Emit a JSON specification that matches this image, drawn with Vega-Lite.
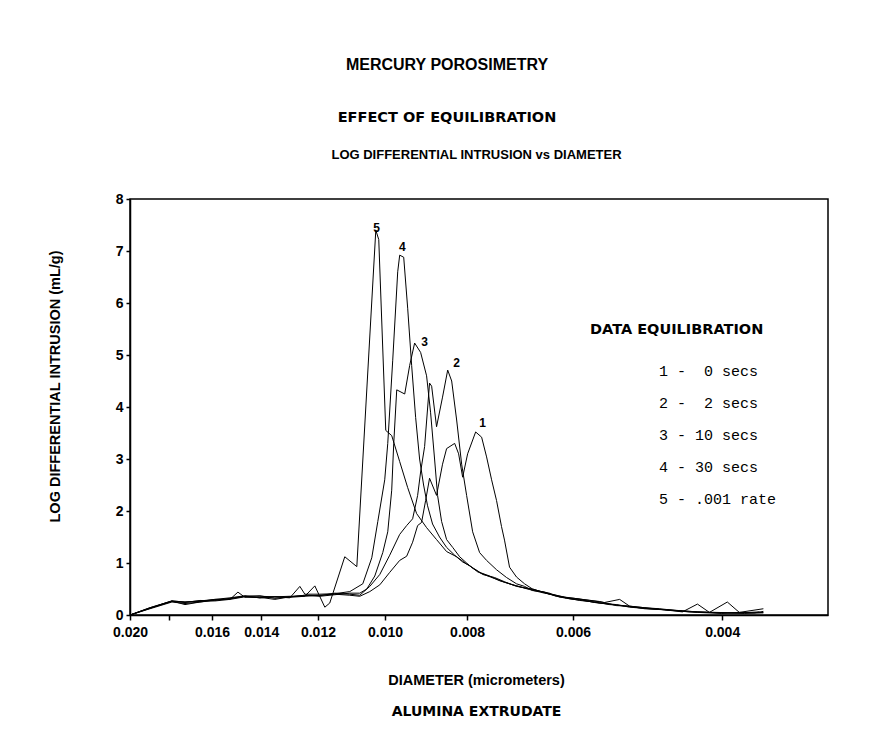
{
  "$schema": "https://vega.github.io/schema/vega-lite/v6.json",
  "width": 698,
  "height": 416,
  "autosize": {"type": "none"},
  "padding": {"left": 130, "top": 199, "right": 42, "bottom": 116},
  "background": "white",
  "config": {
    "view": {"stroke": "black", "strokeWidth": 1.5},
    "font": "Liberation Sans"
  },
  "title": {
    "text": "MERCURY POROSIMETRY",
    "subtitle": "EFFECT OF EQUILIBRATION",
    "anchor": "middle",
    "frame": "group",
    "dx": -32,
    "offset": 24,
    "font": "Liberation Sans",
    "fontSize": 16,
    "fontWeight": "bold",
    "color": "black",
    "subtitleFont": "DejaVu Sans",
    "subtitleFontSize": 14.5,
    "subtitleFontWeight": "bold",
    "subtitleColor": "black",
    "subtitlePadding": 38
  },
  "datasets": {
    "curves": [
      {"run": "1 -\u00a0\u00a00 secs", "d": 0.02, "v": 0},
      {"run": "1 -\u00a0\u00a00 secs", "d": 0.018944, "v": 0.12},
      {"run": "1 -\u00a0\u00a00 secs", "d": 0.017846, "v": 0.25},
      {"run": "1 -\u00a0\u00a00 secs", "d": 0.017224, "v": 0.22},
      {"run": "1 -\u00a0\u00a00 secs", "d": 0.016538, "v": 0.25},
      {"run": "1 -\u00a0\u00a00 secs", "d": 0.015882, "v": 0.28},
      {"run": "1 -\u00a0\u00a00 secs", "d": 0.015243, "v": 0.32},
      {"run": "1 -\u00a0\u00a00 secs", "d": 0.014634, "v": 0.36},
      {"run": "1 -\u00a0\u00a00 secs", "d": 0.01405, "v": 0.33},
      {"run": "1 -\u00a0\u00a00 secs", "d": 0.01349, "v": 0.35},
      {"run": "1 -\u00a0\u00a00 secs", "d": 0.012952, "v": 0.36},
      {"run": "1 -\u00a0\u00a00 secs", "d": 0.012435, "v": 0.36},
      {"run": "1 -\u00a0\u00a00 secs", "d": 0.01194, "v": 0.38},
      {"run": "1 -\u00a0\u00a00 secs", "d": 0.011462, "v": 0.4},
      {"run": "1 -\u00a0\u00a00 secs", "d": 0.011005, "v": 0.38},
      {"run": "1 -\u00a0\u00a00 secs", "d": 0.01071, "v": 0.36},
      {"run": "1 -\u00a0\u00a00 secs", "d": 0.010423, "v": 0.45},
      {"run": "1 -\u00a0\u00a00 secs", "d": 0.010143, "v": 0.58},
      {"run": "1 -\u00a0\u00a00 secs", "d": 0.009873, "v": 0.82},
      {"run": "1 -\u00a0\u00a00 secs", "d": 0.009609, "v": 1.05},
      {"run": "1 -\u00a0\u00a00 secs", "d": 0.009429, "v": 1.13},
      {"run": "1 -\u00a0\u00a00 secs", "d": 0.009277, "v": 1.4},
      {"run": "1 -\u00a0\u00a00 secs", "d": 0.009152, "v": 1.72},
      {"run": "1 -\u00a0\u00a00 secs", "d": 0.009054, "v": 1.78},
      {"run": "1 -\u00a0\u00a00 secs", "d": 0.008956, "v": 2.2},
      {"run": "1 -\u00a0\u00a00 secs", "d": 0.00886, "v": 2.63},
      {"run": "1 -\u00a0\u00a00 secs", "d": 0.008693, "v": 2.3},
      {"run": "1 -\u00a0\u00a00 secs", "d": 0.008553, "v": 2.9},
      {"run": "1 -\u00a0\u00a00 secs", "d": 0.008459, "v": 3.2},
      {"run": "1 -\u00a0\u00a00 secs", "d": 0.008276, "v": 3.3},
      {"run": "1 -\u00a0\u00a00 secs", "d": 0.008187, "v": 3.1},
      {"run": "1 -\u00a0\u00a00 secs", "d": 0.008098, "v": 2.65},
      {"run": "1 -\u00a0\u00a00 secs", "d": 0.007989, "v": 3.1},
      {"run": "1 -\u00a0\u00a00 secs", "d": 0.007817, "v": 3.52},
      {"run": "1 -\u00a0\u00a00 secs", "d": 0.007691, "v": 3.42},
      {"run": "1 -\u00a0\u00a00 secs", "d": 0.007588, "v": 3.04},
      {"run": "1 -\u00a0\u00a00 secs", "d": 0.007485, "v": 2.6},
      {"run": "1 -\u00a0\u00a00 secs", "d": 0.007385, "v": 2.2},
      {"run": "1 -\u00a0\u00a00 secs", "d": 0.007286, "v": 1.7},
      {"run": "1 -\u00a0\u00a00 secs", "d": 0.007227, "v": 1.44},
      {"run": "1 -\u00a0\u00a00 secs", "d": 0.007129, "v": 0.92},
      {"run": "1 -\u00a0\u00a00 secs", "d": 0.006995, "v": 0.73},
      {"run": "1 -\u00a0\u00a00 secs", "d": 0.006844, "v": 0.6},
      {"run": "1 -\u00a0\u00a00 secs", "d": 0.006698, "v": 0.5},
      {"run": "1 -\u00a0\u00a00 secs", "d": 0.006482, "v": 0.43},
      {"run": "1 -\u00a0\u00a00 secs", "d": 0.006274, "v": 0.36},
      {"run": "1 -\u00a0\u00a00 secs", "d": 0.006107, "v": 0.32},
      {"run": "1 -\u00a0\u00a00 secs", "d": 0.005893, "v": 0.3},
      {"run": "1 -\u00a0\u00a00 secs", "d": 0.005658, "v": 0.24},
      {"run": "1 -\u00a0\u00a00 secs", "d": 0.005433, "v": 0.21},
      {"run": "1 -\u00a0\u00a00 secs", "d": 0.005215, "v": 0.17},
      {"run": "1 -\u00a0\u00a00 secs", "d": 0.004938, "v": 0.13},
      {"run": "1 -\u00a0\u00a00 secs", "d": 0.004678, "v": 0.1},
      {"run": "1 -\u00a0\u00a00 secs", "d": 0.004456, "v": 0.07},
      {"run": "1 -\u00a0\u00a00 secs", "d": 0.004278, "v": 0.05},
      {"run": "1 -\u00a0\u00a00 secs", "d": 0.004008, "v": 0.03},
      {"run": "1 -\u00a0\u00a00 secs", "d": 0.003818, "v": 0.05},
      {"run": "1 -\u00a0\u00a00 secs", "d": 0.003576, "v": 0.12},

      {"run": "2 -\u00a0\u00a02 secs", "d": 0.02, "v": 0},
      {"run": "2 -\u00a0\u00a02 secs", "d": 0.018944, "v": 0.14},
      {"run": "2 -\u00a0\u00a02 secs", "d": 0.017846, "v": 0.27},
      {"run": "2 -\u00a0\u00a02 secs", "d": 0.017224, "v": 0.25},
      {"run": "2 -\u00a0\u00a02 secs", "d": 0.016538, "v": 0.27},
      {"run": "2 -\u00a0\u00a02 secs", "d": 0.015882, "v": 0.3},
      {"run": "2 -\u00a0\u00a02 secs", "d": 0.015243, "v": 0.3},
      {"run": "2 -\u00a0\u00a02 secs", "d": 0.014634, "v": 0.35},
      {"run": "2 -\u00a0\u00a02 secs", "d": 0.01405, "v": 0.37},
      {"run": "2 -\u00a0\u00a02 secs", "d": 0.01349, "v": 0.32},
      {"run": "2 -\u00a0\u00a02 secs", "d": 0.012952, "v": 0.35},
      {"run": "2 -\u00a0\u00a02 secs", "d": 0.012435, "v": 0.38},
      {"run": "2 -\u00a0\u00a02 secs", "d": 0.01194, "v": 0.37},
      {"run": "2 -\u00a0\u00a02 secs", "d": 0.011462, "v": 0.42},
      {"run": "2 -\u00a0\u00a02 secs", "d": 0.011005, "v": 0.4},
      {"run": "2 -\u00a0\u00a02 secs", "d": 0.01071, "v": 0.38},
      {"run": "2 -\u00a0\u00a02 secs", "d": 0.010423, "v": 0.55},
      {"run": "2 -\u00a0\u00a02 secs", "d": 0.010143, "v": 0.78},
      {"run": "2 -\u00a0\u00a02 secs", "d": 0.009873, "v": 1.15},
      {"run": "2 -\u00a0\u00a02 secs", "d": 0.009609, "v": 1.55},
      {"run": "2 -\u00a0\u00a02 secs", "d": 0.009429, "v": 1.72},
      {"run": "2 -\u00a0\u00a02 secs", "d": 0.009277, "v": 1.85},
      {"run": "2 -\u00a0\u00a02 secs", "d": 0.009152, "v": 2.3},
      {"run": "2 -\u00a0\u00a02 secs", "d": 0.009078, "v": 2.75},
      {"run": "2 -\u00a0\u00a02 secs", "d": 0.00898, "v": 3.24},
      {"run": "2 -\u00a0\u00a02 secs", "d": 0.00886, "v": 4.46},
      {"run": "2 -\u00a0\u00a02 secs", "d": 0.00881, "v": 4.4},
      {"run": "2 -\u00a0\u00a02 secs", "d": 0.008693, "v": 3.62},
      {"run": "2 -\u00a0\u00a02 secs", "d": 0.008553, "v": 4.19},
      {"run": "2 -\u00a0\u00a02 secs", "d": 0.008434, "v": 4.71},
      {"run": "2 -\u00a0\u00a02 secs", "d": 0.008343, "v": 4.5},
      {"run": "2 -\u00a0\u00a02 secs", "d": 0.008231, "v": 3.75},
      {"run": "2 -\u00a0\u00a02 secs", "d": 0.00812, "v": 2.9},
      {"run": "2 -\u00a0\u00a02 secs", "d": 0.008011, "v": 2.3},
      {"run": "2 -\u00a0\u00a02 secs", "d": 0.007881, "v": 1.6},
      {"run": "2 -\u00a0\u00a02 secs", "d": 0.007733, "v": 1.2},
      {"run": "2 -\u00a0\u00a02 secs", "d": 0.007588, "v": 1.05},
      {"run": "2 -\u00a0\u00a02 secs", "d": 0.007385, "v": 0.87},
      {"run": "2 -\u00a0\u00a02 secs", "d": 0.007186, "v": 0.72},
      {"run": "2 -\u00a0\u00a02 secs", "d": 0.006995, "v": 0.6},
      {"run": "2 -\u00a0\u00a02 secs", "d": 0.006844, "v": 0.55},
      {"run": "2 -\u00a0\u00a02 secs", "d": 0.006698, "v": 0.47},
      {"run": "2 -\u00a0\u00a02 secs", "d": 0.006482, "v": 0.44},
      {"run": "2 -\u00a0\u00a02 secs", "d": 0.006274, "v": 0.36},
      {"run": "2 -\u00a0\u00a02 secs", "d": 0.006107, "v": 0.33},
      {"run": "2 -\u00a0\u00a02 secs", "d": 0.005893, "v": 0.28},
      {"run": "2 -\u00a0\u00a02 secs", "d": 0.005658, "v": 0.25},
      {"run": "2 -\u00a0\u00a02 secs", "d": 0.005433, "v": 0.2},
      {"run": "2 -\u00a0\u00a02 secs", "d": 0.005215, "v": 0.18},
      {"run": "2 -\u00a0\u00a02 secs", "d": 0.004938, "v": 0.12},
      {"run": "2 -\u00a0\u00a02 secs", "d": 0.004678, "v": 0.1},
      {"run": "2 -\u00a0\u00a02 secs", "d": 0.004456, "v": 0.06},
      {"run": "2 -\u00a0\u00a02 secs", "d": 0.004278, "v": 0.21},
      {"run": "2 -\u00a0\u00a02 secs", "d": 0.004141, "v": 0.05},
      {"run": "2 -\u00a0\u00a02 secs", "d": 0.004008, "v": 0.04},
      {"run": "2 -\u00a0\u00a02 secs", "d": 0.003818, "v": 0.04},
      {"run": "2 -\u00a0\u00a02 secs", "d": 0.003614, "v": 0.06},

      {"run": "3 - 10 secs", "d": 0.02, "v": 0},
      {"run": "3 - 10 secs", "d": 0.018944, "v": 0.13},
      {"run": "3 - 10 secs", "d": 0.017846, "v": 0.26},
      {"run": "3 - 10 secs", "d": 0.017224, "v": 0.24},
      {"run": "3 - 10 secs", "d": 0.016538, "v": 0.28},
      {"run": "3 - 10 secs", "d": 0.015882, "v": 0.27},
      {"run": "3 - 10 secs", "d": 0.015243, "v": 0.3},
      {"run": "3 - 10 secs", "d": 0.014916, "v": 0.44},
      {"run": "3 - 10 secs", "d": 0.014634, "v": 0.34},
      {"run": "3 - 10 secs", "d": 0.01405, "v": 0.34},
      {"run": "3 - 10 secs", "d": 0.01349, "v": 0.3},
      {"run": "3 - 10 secs", "d": 0.012952, "v": 0.35},
      {"run": "3 - 10 secs", "d": 0.012435, "v": 0.38},
      {"run": "3 - 10 secs", "d": 0.01194, "v": 0.36},
      {"run": "3 - 10 secs", "d": 0.011462, "v": 0.39},
      {"run": "3 - 10 secs", "d": 0.011005, "v": 0.42},
      {"run": "3 - 10 secs", "d": 0.01071, "v": 0.42},
      {"run": "3 - 10 secs", "d": 0.010508, "v": 0.5},
      {"run": "3 - 10 secs", "d": 0.010282, "v": 0.75},
      {"run": "3 - 10 secs", "d": 0.010062, "v": 1.2},
      {"run": "3 - 10 secs", "d": 0.009926, "v": 1.6},
      {"run": "3 - 10 secs", "d": 0.00982, "v": 2.4},
      {"run": "3 - 10 secs", "d": 0.009766, "v": 3.3},
      {"run": "3 - 10 secs", "d": 0.009687, "v": 4.33},
      {"run": "3 - 10 secs", "d": 0.009479, "v": 4.25},
      {"run": "3 - 10 secs", "d": 0.009352, "v": 4.8},
      {"run": "3 - 10 secs", "d": 0.009227, "v": 5.23},
      {"run": "3 - 10 secs", "d": 0.009078, "v": 5.05},
      {"run": "3 - 10 secs", "d": 0.008932, "v": 4.6},
      {"run": "3 - 10 secs", "d": 0.008836, "v": 3.9},
      {"run": "3 - 10 secs", "d": 0.00874, "v": 3.0},
      {"run": "3 - 10 secs", "d": 0.008669, "v": 2.3},
      {"run": "3 - 10 secs", "d": 0.008575, "v": 1.8},
      {"run": "3 - 10 secs", "d": 0.008459, "v": 1.45},
      {"run": "3 - 10 secs", "d": 0.00832, "v": 1.3},
      {"run": "3 - 10 secs", "d": 0.008164, "v": 1.12},
      {"run": "3 - 10 secs", "d": 0.008011, "v": 1.0},
      {"run": "3 - 10 secs", "d": 0.007881, "v": 0.9},
      {"run": "3 - 10 secs", "d": 0.007733, "v": 0.82},
      {"run": "3 - 10 secs", "d": 0.007526, "v": 0.75},
      {"run": "3 - 10 secs", "d": 0.007325, "v": 0.66},
      {"run": "3 - 10 secs", "d": 0.00707, "v": 0.58},
      {"run": "3 - 10 secs", "d": 0.006844, "v": 0.52},
      {"run": "3 - 10 secs", "d": 0.006572, "v": 0.46},
      {"run": "3 - 10 secs", "d": 0.006397, "v": 0.42},
      {"run": "3 - 10 secs", "d": 0.006225, "v": 0.35},
      {"run": "3 - 10 secs", "d": 0.005976, "v": 0.32},
      {"run": "3 - 10 secs", "d": 0.005736, "v": 0.28},
      {"run": "3 - 10 secs", "d": 0.005508, "v": 0.24},
      {"run": "3 - 10 secs", "d": 0.005285, "v": 0.3},
      {"run": "3 - 10 secs", "d": 0.005144, "v": 0.17},
      {"run": "3 - 10 secs", "d": 0.004938, "v": 0.14},
      {"run": "3 - 10 secs", "d": 0.004743, "v": 0.12},
      {"run": "3 - 10 secs", "d": 0.004553, "v": 0.09},
      {"run": "3 - 10 secs", "d": 0.004373, "v": 0.06},
      {"run": "3 - 10 secs", "d": 0.004198, "v": 0.05},
      {"run": "3 - 10 secs", "d": 0.003944, "v": 0.04},
      {"run": "3 - 10 secs", "d": 0.003765, "v": 0.03},
      {"run": "3 - 10 secs", "d": 0.003576, "v": 0.05},

      {"run": "4 - 30 secs", "d": 0.02, "v": 0},
      {"run": "4 - 30 secs", "d": 0.018944, "v": 0.14},
      {"run": "4 - 30 secs", "d": 0.017846, "v": 0.27},
      {"run": "4 - 30 secs", "d": 0.017224, "v": 0.25},
      {"run": "4 - 30 secs", "d": 0.016538, "v": 0.26},
      {"run": "4 - 30 secs", "d": 0.015882, "v": 0.3},
      {"run": "4 - 30 secs", "d": 0.015243, "v": 0.33},
      {"run": "4 - 30 secs", "d": 0.014634, "v": 0.37},
      {"run": "4 - 30 secs", "d": 0.01405, "v": 0.36},
      {"run": "4 - 30 secs", "d": 0.01349, "v": 0.35},
      {"run": "4 - 30 secs", "d": 0.012952, "v": 0.33},
      {"run": "4 - 30 secs", "d": 0.012605, "v": 0.55},
      {"run": "4 - 30 secs", "d": 0.012435, "v": 0.4},
      {"run": "4 - 30 secs", "d": 0.01194, "v": 0.4},
      {"run": "4 - 30 secs", "d": 0.011462, "v": 0.41},
      {"run": "4 - 30 secs", "d": 0.011005, "v": 0.45},
      {"run": "4 - 30 secs", "d": 0.010623, "v": 0.6},
      {"run": "4 - 30 secs", "d": 0.010367, "v": 1.1},
      {"run": "4 - 30 secs", "d": 0.010198, "v": 1.8},
      {"run": "4 - 30 secs", "d": 0.010008, "v": 2.6},
      {"run": "4 - 30 secs", "d": 0.009926, "v": 3.3},
      {"run": "4 - 30 secs", "d": 0.009793, "v": 4.9},
      {"run": "4 - 30 secs", "d": 0.009661, "v": 6.6},
      {"run": "4 - 30 secs", "d": 0.009609, "v": 6.92},
      {"run": "4 - 30 secs", "d": 0.009505, "v": 6.88},
      {"run": "4 - 30 secs", "d": 0.009403, "v": 5.9},
      {"run": "4 - 30 secs", "d": 0.009302, "v": 4.8},
      {"run": "4 - 30 secs", "d": 0.009202, "v": 3.8},
      {"run": "4 - 30 secs", "d": 0.009103, "v": 3.0},
      {"run": "4 - 30 secs", "d": 0.009005, "v": 2.5},
      {"run": "4 - 30 secs", "d": 0.008908, "v": 2.1},
      {"run": "4 - 30 secs", "d": 0.008788, "v": 1.75},
      {"run": "4 - 30 secs", "d": 0.008623, "v": 1.5},
      {"run": "4 - 30 secs", "d": 0.008459, "v": 1.3},
      {"run": "4 - 30 secs", "d": 0.008276, "v": 1.15},
      {"run": "4 - 30 secs", "d": 0.008098, "v": 1.02},
      {"run": "4 - 30 secs", "d": 0.007946, "v": 0.95},
      {"run": "4 - 30 secs", "d": 0.007775, "v": 0.83},
      {"run": "4 - 30 secs", "d": 0.007588, "v": 0.76},
      {"run": "4 - 30 secs", "d": 0.007423, "v": 0.7},
      {"run": "4 - 30 secs", "d": 0.007227, "v": 0.63},
      {"run": "4 - 30 secs", "d": 0.006995, "v": 0.56},
      {"run": "4 - 30 secs", "d": 0.006753, "v": 0.49},
      {"run": "4 - 30 secs", "d": 0.006482, "v": 0.42},
      {"run": "4 - 30 secs", "d": 0.006274, "v": 0.38},
      {"run": "4 - 30 secs", "d": 0.006056, "v": 0.31},
      {"run": "4 - 30 secs", "d": 0.005847, "v": 0.28},
      {"run": "4 - 30 secs", "d": 0.005583, "v": 0.23},
      {"run": "4 - 30 secs", "d": 0.005329, "v": 0.2},
      {"run": "4 - 30 secs", "d": 0.005144, "v": 0.15},
      {"run": "4 - 30 secs", "d": 0.004872, "v": 0.12},
      {"run": "4 - 30 secs", "d": 0.004616, "v": 0.1},
      {"run": "4 - 30 secs", "d": 0.004373, "v": 0.07},
      {"run": "4 - 30 secs", "d": 0.004141, "v": 0.05},
      {"run": "4 - 30 secs", "d": 0.003944, "v": 0.25},
      {"run": "4 - 30 secs", "d": 0.003818, "v": 0.05},
      {"run": "4 - 30 secs", "d": 0.003664, "v": 0.04},
      {"run": "4 - 30 secs", "d": 0.003576, "v": 0.07},

      {"run": "5 - .001 rate", "d": 0.02, "v": 0},
      {"run": "5 - .001 rate", "d": 0.018944, "v": 0.13},
      {"run": "5 - .001 rate", "d": 0.017846, "v": 0.27},
      {"run": "5 - .001 rate", "d": 0.017224, "v": 0.2},
      {"run": "5 - .001 rate", "d": 0.016538, "v": 0.25},
      {"run": "5 - .001 rate", "d": 0.015882, "v": 0.29},
      {"run": "5 - .001 rate", "d": 0.015243, "v": 0.31},
      {"run": "5 - .001 rate", "d": 0.014634, "v": 0.36},
      {"run": "5 - .001 rate", "d": 0.01405, "v": 0.33},
      {"run": "5 - .001 rate", "d": 0.01349, "v": 0.35},
      {"run": "5 - .001 rate", "d": 0.012952, "v": 0.34},
      {"run": "5 - .001 rate", "d": 0.012435, "v": 0.36},
      {"run": "5 - .001 rate", "d": 0.012102, "v": 0.56},
      {"run": "5 - .001 rate", "d": 0.011778, "v": 0.15},
      {"run": "5 - .001 rate", "d": 0.011621, "v": 0.23},
      {"run": "5 - .001 rate", "d": 0.011156, "v": 1.12},
      {"run": "5 - .001 rate", "d": 0.010797, "v": 0.93},
      {"run": "5 - .001 rate", "d": 0.010254, "v": 7.4},
      {"run": "5 - .001 rate", "d": 0.010172, "v": 7.22},
      {"run": "5 - .001 rate", "d": 0.00998, "v": 3.55},
      {"run": "5 - .001 rate", "d": 0.00982, "v": 3.45},
      {"run": "5 - .001 rate", "d": 0.009609, "v": 2.95},
      {"run": "5 - .001 rate", "d": 0.009403, "v": 2.45},
      {"run": "5 - .001 rate", "d": 0.009177, "v": 1.95},
      {"run": "5 - .001 rate", "d": 0.008932, "v": 1.68},
      {"run": "5 - .001 rate", "d": 0.008693, "v": 1.45},
      {"run": "5 - .001 rate", "d": 0.008459, "v": 1.22},
      {"run": "5 - .001 rate", "d": 0.008231, "v": 1.12},
      {"run": "5 - .001 rate", "d": 0.008011, "v": 0.98},
      {"run": "5 - .001 rate", "d": 0.007775, "v": 0.85},
      {"run": "5 - .001 rate", "d": 0.00767, "v": 0.78},
      {"run": "5 - .001 rate", "d": 0.007423, "v": 0.72},
      {"run": "5 - .001 rate", "d": 0.007227, "v": 0.64},
      {"run": "5 - .001 rate", "d": 0.006995, "v": 0.55},
      {"run": "5 - .001 rate", "d": 0.006698, "v": 0.5},
      {"run": "5 - .001 rate", "d": 0.006397, "v": 0.4},
      {"run": "5 - .001 rate", "d": 0.006107, "v": 0.34},
      {"run": "5 - .001 rate", "d": 0.005847, "v": 0.3},
      {"run": "5 - .001 rate", "d": 0.005583, "v": 0.26},
      {"run": "5 - .001 rate", "d": 0.005329, "v": 0.18},
      {"run": "5 - .001 rate", "d": 0.005144, "v": 0.17},
      {"run": "5 - .001 rate", "d": 0.004872, "v": 0.13},
      {"run": "5 - .001 rate", "d": 0.004616, "v": 0.09},
      {"run": "5 - .001 rate", "d": 0.004456, "v": 0.08},
      {"run": "5 - .001 rate", "d": 0.004278, "v": 0.06},
      {"run": "5 - .001 rate", "d": 0.004064, "v": 0.05},
      {"run": "5 - .001 rate", "d": 0.003869, "v": 0.04},
      {"run": "5 - .001 rate", "d": 0.003576, "v": 0.04}
    ],
    "peaks": [
      {"p": "5", "d": 0.010229, "v": 7.44},
      {"p": "4", "d": 0.00954, "v": 7.08},
      {"p": "3", "d": 0.00898, "v": 5.25},
      {"p": "2", "d": 0.00823, "v": 4.85},
      {"p": "1", "d": 0.00767, "v": 3.69}
    ]
  },
  "layer": [
    {
      "data": {"name": "curves"},
      "mark": {"type": "line", "strokeWidth": 1, "color": "black"},
      "encoding": {
        "x": {
          "field": "d",
          "type": "quantitative",
          "scale": {"type": "log", "domain": [0.003, 0.02], "reverse": true, "nice": false},
          "axis": {
            "orient": "bottom",
            "values": [0.02, 0.018, 0.016, 0.014, 0.012, 0.01, 0.008, 0.006, 0.004],
            "labelExpr": "datum.value > 0.0175 && datum.value < 0.0185 ? '' : format(datum.value, '.3f')",
            "labelFont": "Liberation Sans",
            "labelFontSize": 14,
            "labelFontWeight": "bold",
            "labelColor": "black",
            "labelPadding": 5,
            "labelFlush": false,
            "labelOverlap": false,
            "tickSize": 5,
            "tickColor": "black",
            "tickWidth": 1.5,
            "domainColor": "black",
            "domainWidth": 1.5,
            "grid": false,
            "title": "DIAMETER (micrometers)",
            "titleFont": "Liberation Sans",
            "titleFontSize": 14.5,
            "titleFontWeight": "bold",
            "titleColor": "black",
            "titlePadding": 34,
            "titleX": 346
          }
        },
        "y": {
          "field": "v",
          "type": "quantitative",
          "scale": {"domain": [0, 8], "nice": false},
          "axis": {
            "values": [0, 1, 2, 3, 4, 5, 6, 7, 8],
            "labelFont": "Liberation Sans",
            "labelFontSize": 14,
            "labelFontWeight": "bold",
            "labelColor": "black",
            "labelPadding": 3,
            "tickSize": 4,
            "tickColor": "black",
            "tickWidth": 1.5,
            "domainColor": "black",
            "domainWidth": 1.5,
            "grid": false,
            "title": "LOG DIFFERENTIAL INTRUSION (mL/g)",
            "titleFont": "Liberation Sans",
            "titleFontSize": 14.5,
            "titleFontWeight": "bold",
            "titleColor": "black",
            "titleAngle": -90,
            "titleX": -75,
            "titleY": 187,
            "titleAlign": "center",
            "titleBaseline": "middle"
          }
        },
        "color": {
          "field": "run",
          "type": "nominal",
          "scale": {"range": ["black"]},
          "legend": {
            "orient": "none",
            "legendX": 460,
            "legendY": 124,
            "padding": 0,
            "title": "DATA EQUILIBRATION",
            "titleFont": "DejaVu Sans",
            "titleFontSize": 14.5,
            "titleFontWeight": "bold",
            "titleColor": "black",
            "titlePadding": 26,
            "labelFont": "Liberation Mono",
            "labelFontSize": 15,
            "labelColor": "black",
            "labelLimit": 400,
            "labelOffset": 54,
            "symbolSize": 0,
            "symbolOpacity": 0,
            "symbolStrokeWidth": 0,
            "rowPadding": 16
          }
        }
      }
    },
    {
      "data": {"name": "peaks"},
      "transform": [{"filter": "datum.p == '1' || datum.p == '2' || datum.p == '3'"}],
      "mark": {"type": "text", "font": "Liberation Sans", "fontSize": 12, "fontWeight": "bold", "color": "black", "baseline": "middle", "align": "center"},
      "encoding": {
        "x": {
          "field": "d",
          "type": "quantitative",
          "scale": {"type": "log", "domain": [0.003, 0.02], "reverse": true, "nice": false},
          "axis": {
            "orient": "top",
            "labels": false,
            "ticks": false,
            "domain": false,
            "grid": false,
            "title": "LOG DIFFERENTIAL INTRUSION vs DIAMETER",
            "titleFont": "Liberation Sans",
            "titleFontSize": 13,
            "titleFontWeight": "bold",
            "titleColor": "black",
            "titlePadding": 38,
            "titleX": 346
          }
        },
        "y": {"field": "v", "type": "quantitative"},
        "text": {"field": "p"}
      }
    },
    {
      "data": {"name": "peaks"},
      "transform": [{"filter": "datum.p == '4' || datum.p == '5'"}],
      "mark": {"type": "text", "font": "Liberation Sans", "fontSize": 12, "fontWeight": "bold", "color": "black", "baseline": "middle", "align": "center"},
      "encoding": {
        "x": {
          "field": "d",
          "type": "quantitative",
          "scale": {"type": "log", "domain": [0.003, 0.02], "reverse": true, "nice": false},
          "axis": {
            "orient": "bottom",
            "labels": false,
            "ticks": false,
            "domain": false,
            "grid": false,
            "title": "ALUMINA EXTRUDATE",
            "titleFont": "DejaVu Sans",
            "titleFontSize": 14,
            "titleFontWeight": "bold",
            "titleColor": "black",
            "titlePadding": 89,
            "titleX": 346
          }
        },
        "y": {"field": "v", "type": "quantitative"},
        "text": {"field": "p"}
      }
    }
  ],
  "resolve": {"axis": {"x": "independent"}}
}
